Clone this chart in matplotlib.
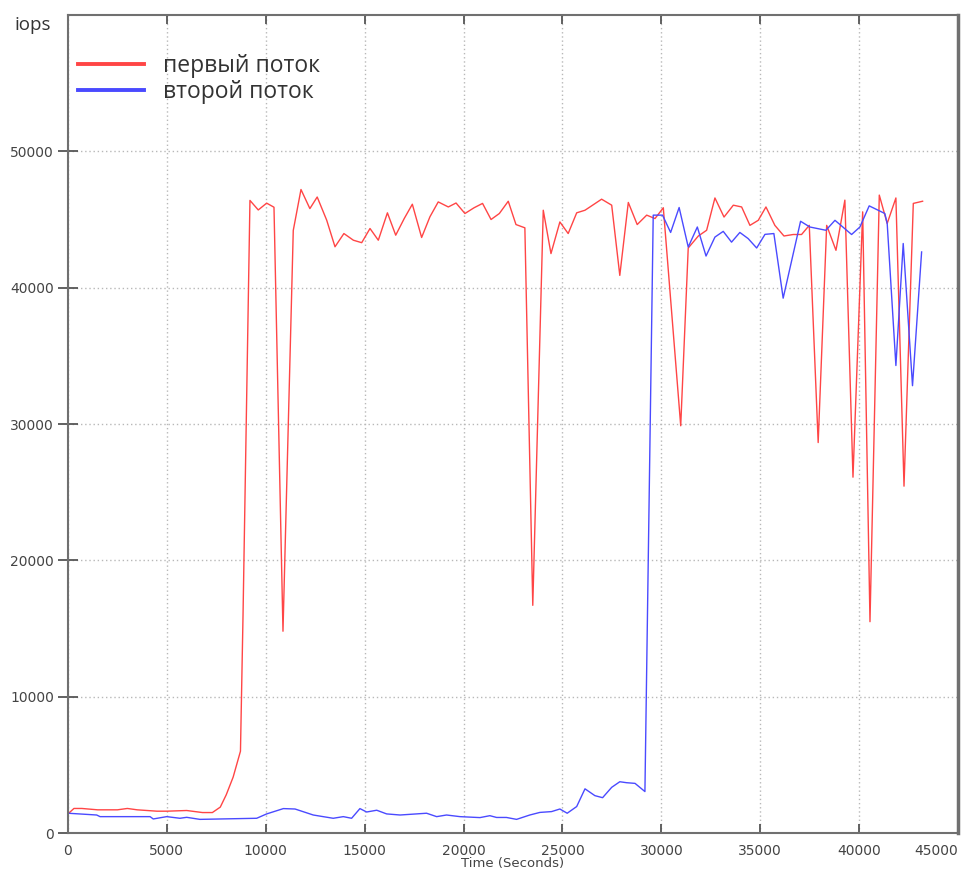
import matplotlib.pyplot as plt
from matplotlib.ticker import FixedLocator

# first stream (red)
red_t = [0, 300, 700, 1500, 2500, 3000, 3500, 4500, 5000, 6000, 6800, 7300,
         7700, 8000, 8350, 8720, 8850, 9200, 9620, 10045, 10415, 10870,
         11390, 11780, 12230, 12600, 13080, 13500, 13950, 14430, 14850,
         15270, 15690, 16150, 16570, 17000, 17410, 17880, 18300, 18720,
         19230, 19620, 20070, 20530, 20960, 21390, 21810, 22260, 22650,
         23100, 23500, 24030, 24420, 24870, 25290, 25720, 26140, 26390,
         26980, 27490, 27900, 28330, 28780, 29260, 29680, 30100, 30980,
         31360, 31870, 32290, 32710, 33170, 33640, 34060, 34480, 34900,
         35290, 35740, 36200, 36670, 37090, 37480, 37930, 38360, 38830,
         39280, 39690, 40180, 40550, 41020, 41420, 41860, 42270, 42740,
         43210]
red_iops = [1400, 1800, 1800, 1700, 1700, 1800, 1700, 1600, 1600, 1650, 1500,
            1500, 1900, 2800, 4100, 6000, 16000, 46400, 45700, 46200, 45900,
            14800, 44200, 47200, 45800, 46650, 44950, 43000, 43970, 43480,
            43300, 44340, 43480, 45490, 43850, 45070, 46120, 43680, 45200,
            46290, 45920, 46210, 45440, 45860, 46180, 45000, 45440, 46340,
            44630, 44390, 16700, 45680, 42500, 44820, 43970, 45490, 45680,
            45920, 46490, 46050, 40900, 46250, 44630, 45320, 45070, 45860,
            29870, 42910, 43790, 44210, 46580, 45180, 46050, 45920, 44570,
            44940, 45920, 44570, 43790, 43900, 43900, 44570, 28640, 44570,
            42740, 46420, 26100, 45560, 15500, 46790, 44710, 46580, 25440,
            46180, 46340]

# second stream (blue)
blue_t = [0, 1450, 1620, 4150, 4310, 4990, 5660, 6000, 6670, 9540, 10045,
          10890, 11480, 12400, 12900, 13410, 13920, 14340, 14760, 15100,
          15610, 16110, 16790, 18130, 18640, 19140, 19820, 20830, 21330,
          21670, 22170, 22680, 23350, 23860, 24450, 24870, 25240, 25720,
          26140, 26640, 27030, 27490, 27900, 28240, 28670, 29170, 29590,
          30060, 30470, 30900, 31360, 31820, 32260, 32710, 33130, 33550,
          33970, 34390, 34820, 35240, 35690, 36160, 37040, 37510, 38320,
          38780, 39620, 40040, 40510, 41300, 41420, 41860, 42230, 42700,
          43160]
blue_iops = [1450, 1320, 1200, 1200, 1030, 1200, 1080, 1150, 1000, 1080,
             1400, 1790, 1760, 1320, 1200, 1080, 1200, 1080, 1790, 1540,
             1670, 1400, 1320, 1450, 1200, 1320, 1200, 1130, 1270, 1140,
             1140, 1000, 1320, 1510, 1570, 1760, 1450, 1940, 3240, 2740,
             2590, 3350, 3760, 3690, 3640, 3040, 45320, 45320, 44050, 45880,
             42980, 44450, 42320, 43710, 44130, 43340, 44050, 43600, 42910,
             43910, 43970, 39230, 44870, 44450, 44210, 44940, 43900, 44450,
             46000, 45440, 44710, 34290, 43240, 32810, 42620]

series_labels = ["первый поток", "второй поток"]
x_ticks = list(range(0, 45001, 5000))
y_ticks = list(range(0, 50001, 10000))


def draw_chart() -> None:
    fig = plt.figure(figsize=(9.68, 8.72), dpi=100)
    ax = fig.add_axes([68 / 968, 39 / 872, 890 / 968, 818 / 872])

    ax.plot(red_t, red_iops, color="#ff4545", lw=1.0, label=series_labels[0])
    ax.plot(blue_t, blue_iops, color="#4a4aff", lw=1.0,
            label=series_labels[1])

    ax.set_xlim(0, 45000)
    ax.set_ylim(0, 60000)
    ax.xaxis.set_major_locator(FixedLocator(x_ticks))
    ax.yaxis.set_major_locator(FixedLocator(y_ticks))
    ax.grid(True, linestyle=(0, (1, 2)), color="#b8b8b8", lw=1)

    for side in ["left", "bottom", "top", "right"]:
        ax.spines[side].set_color("#707070")
        ax.spines[side].set_linewidth(1.5)
    ax.spines["right"].set_linewidth(2.5)

    ax.tick_params(axis="x", direction="in", top=True, length=6.5,
                   width=1.3, color="#555555", pad=8,
                   labelsize=10, labelcolor="#444444")
    ax.tick_params(axis="y", direction="inout", length=14, width=1.3,
                   color="#555555", pad=3, labelsize=10,
                   labelcolor="#444444")
    # the last x label is pulled inside the figure, as in the source
    last_label = ax.get_xticklabels()[-1]
    last_label.set_horizontalalignment("right")
    last_label.set_x(45000)

    ax.set_xlabel("Time (Seconds)", fontsize=9.5, color="#444444",
                  labelpad=-1)
    fig.text(15 / 968, 1 - 25 / 872, "iops", fontsize=13.5,
             family="Open Sans", color="#333333", va="center", ha="left")

    leg = ax.legend(loc="upper left", bbox_to_anchor=(0.011, 0.952),
                    frameon=False, borderpad=0, borderaxespad=0,
                    handlelength=2.9, handletextpad=0.8,
                    labelspacing=0.08,
                    prop={"family": "Open Sans", "size": 16.5})
    for line in leg.get_lines():
        line.set_linewidth(2.8)
    for text in leg.get_texts():
        text.set_color("#333333")

    fig.savefig("out.png", dpi=100)


if __name__ == "__main__":
    draw_chart()
